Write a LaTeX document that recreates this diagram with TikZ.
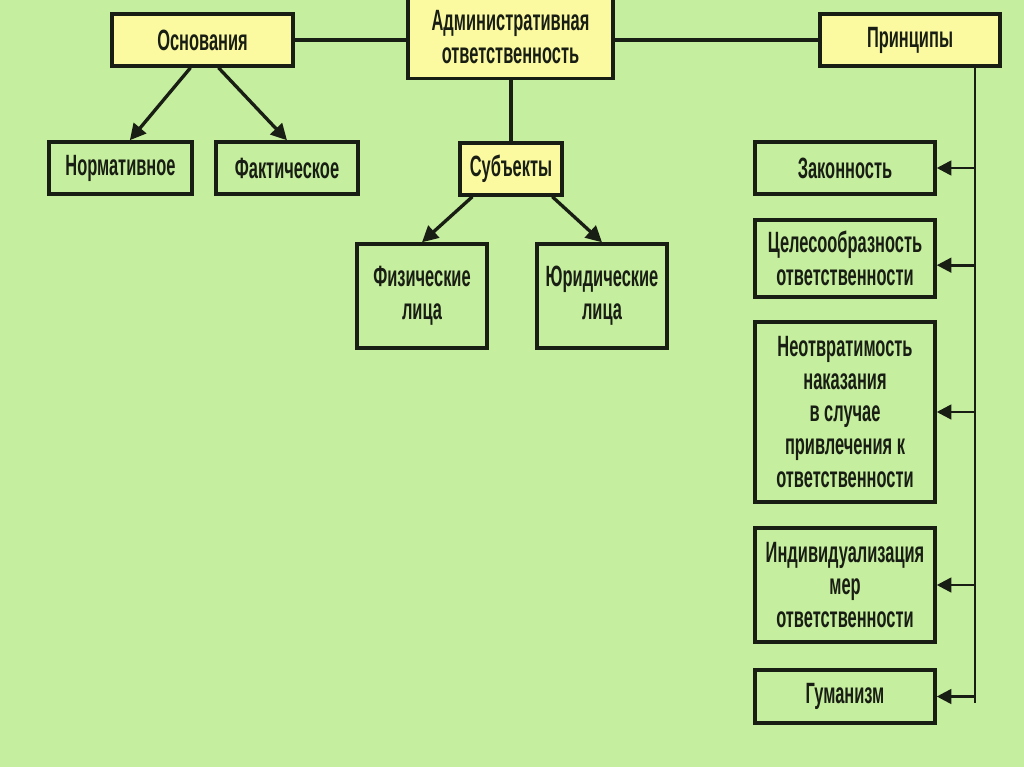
\documentclass[tikz,border=0pt]{standalone}
\usepackage{fontspec}
\setmainfont[FakeStretch=0.56]{Liberation Sans}
\usetikzlibrary{arrows.meta}
\definecolor{bg}{RGB}{197,238,158}
\definecolor{ybox}{RGB}{251,250,160}
\definecolor{ink}{RGB}{25,30,20}
\tikzset{
  box/.style={draw=ink, line width=2.6pt, fill=bg, align=center, inner sep=1pt,
    text=ink, font=\fontsize{22}{24.5}\selectfont\bfseries},
  yellowbox/.style={box, fill=ybox},
  link/.style={draw=ink, line width=2.5pt},
  arr/.style={link, -{Triangle[length=12pt,width=12pt]}},
  barr/.style={draw=ink, line width=2pt, -{Triangle[length=11pt,width=11pt]}}
}
\begin{document}
\begin{tikzpicture}[x=0.75pt,y=-0.75pt]
\useasboundingbox[fill=bg] (0,0) rectangle (1024,767);
% top row
\node[yellowbox, minimum width=135.75pt, minimum height=39pt] (osn) at (202.5,40) {Основания};
\node[yellowbox, minimum width=153.75pt, minimum height=62pt] (adm) at (510.5,37) {Административная\\ответственность};
\node[yellowbox, minimum width=135pt, minimum height=39pt] (prin) at (910,40) {Принципы};
% left branch
\node[box, minimum width=107.25pt, minimum height=39pt] (norm) at (120.5,168) {Нормативное};
\node[box, minimum width=106.5pt, minimum height=39pt] (fakt) at (287,168) {Фактическое};
% middle branch
\node[yellowbox, minimum width=76.5pt, minimum height=39pt] (subj) at (511,169) {Субъекты};
\node[box, minimum width=97.5pt, minimum height=78pt] (fiz) at (422,296) {Физические\\лица};
\node[box, minimum width=97.5pt, minimum height=78pt] (yur) at (602,296) {Юридические\\лица};
% right column
\node[box, minimum width=135pt, minimum height=39pt] (zak) at (845,168) {Законность};
\node[box, minimum width=135pt, minimum height=57.75pt] (cel) at (845,258.5) {Целесообразность\\ответственности};
\node[box, minimum width=135pt, minimum height=135pt] (neo) at (845,412) {Неотвратимость\\наказания\\в случае\\привлечения к\\ответственности};
\node[box, minimum width=135pt, minimum height=85.5pt] (ind) at (845,585) {Индивидуализация\\мер\\ответственности};
\node[box, minimum width=135pt, minimum height=39.75pt] (gum) at (845,696.5) {Гуманизм};
% connectors
\draw[link] (osn.east) -- (adm.west |- osn.east);
\draw[link] (adm.east |- prin.west) -- (prin.west);
\draw[link] (adm.south -| subj.north) -- (subj.north);
\draw[arr] ([xshift=-9pt]osn.south) -- ([xshift=7pt]norm.north);
\draw[arr] ([xshift=12pt]osn.south) -- (fakt.north);
\draw[arr] ([xshift=-29pt]subj.south) -- (fiz.north);
\draw[arr] ([xshift=31pt]subj.south) -- (yur.north);
\coordinate (busend) at (975,703);
\draw[draw=ink, line width=2pt] (prin.south -| busend) -- (busend);
\draw[barr] (zak.east -| busend) -- (zak.east);
\draw[barr] ([yshift=-5pt]cel.east -| busend) -- ([yshift=-5pt]cel.east);
\draw[barr] (neo.east -| busend) -- (neo.east);
\draw[barr] (ind.east -| busend) -- (ind.east);
\draw[barr] (gum.east -| busend) -- (gum.east);
\end{tikzpicture}
\end{document}
